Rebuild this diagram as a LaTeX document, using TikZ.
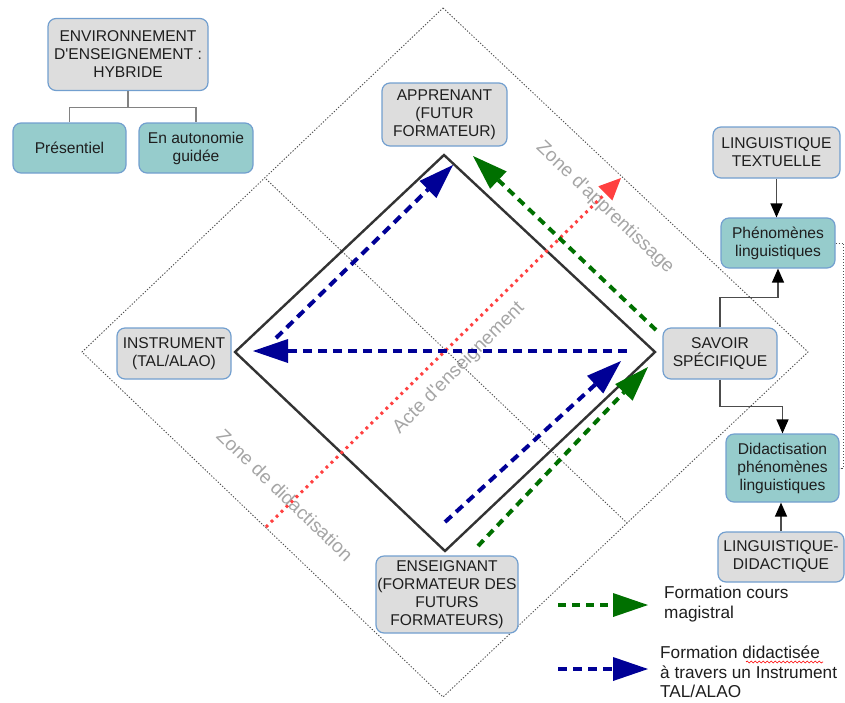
\documentclass[tikz,border=0pt]{standalone}
\usepackage{fontspec}
\setmainfont{Liberation Sans}
\usetikzlibrary{arrows.meta,decorations.pathmorphing}
\definecolor{boxgray}{RGB}{221,221,221}
\definecolor{boxline}{RGB}{114,159,207}
\definecolor{tealfill}{RGB}{150,204,204}
\definecolor{txt}{RGB}{30,30,30}
\definecolor{zonegray}{RGB}{165,165,165}
\definecolor{bluearr}{RGB}{0,0,150}
\definecolor{greenarr}{RGB}{0,112,0}
\definecolor{redarr}{RGB}{255,64,64}
\definecolor{dotgray}{RGB}{80,80,80}
\definecolor{treegray}{RGB}{130,130,130}
\newcommand{\ap}{\textquotesingle}
\begin{document}
\begin{tikzpicture}[x=1pt,y=-1pt,
  box/.style={draw=boxline, line width=1.2pt, rounded corners=8pt, align=center, text=txt,
    font=\fontsize{15.6}{18}\selectfont, inner sep=0pt},
  gbox/.style={box, fill=boxgray},
  tbox/.style={box, fill=tealfill},
  outerdot/.style={draw=dotgray, line width=0.9pt, dash pattern=on 1.3pt off 1.7pt},
  innerdia/.style={draw=black!80, line width=2.4pt, line join=miter},
  treeline/.style={draw=treegray, line width=1.3pt},
  blk/.style={draw=black!70, line width=1.3pt, -{Triangle[length=14pt,width=12pt,black]}},
  bluedash/.style={draw=bluearr, line width=4pt, dash pattern=on 9pt off 6pt,
    -{Triangle[length=35pt,width=24pt,fill=bluearr,line width=0pt]}},
  greendash/.style={draw=greenarr, line width=4pt, dash pattern=on 8pt off 6pt,
    -{Triangle[length=35pt,width=24pt,fill=greenarr,line width=0pt]}},
  reddot/.style={draw=redarr, line width=3pt, dash pattern=on 2.8pt off 4.2pt,
    -{Triangle[length=22pt,width=20pt,fill=redarr,line width=0pt]}},
  zone/.style={text=zonegray, font=\fontsize{19}{22}\selectfont, inner sep=0pt},
  legtext/.style={text=txt, font=\fontsize{17.2}{19.5}\selectfont, align=left, inner sep=0pt, anchor=west}
]
\useasboundingbox (0,0) rectangle (845,702);

% outer dotted diamond
\coordinate (OT) at (443,8);
\coordinate (OR) at (808,352);
\coordinate (OB) at (443,697);
\coordinate (OL) at (82,352);
\draw[outerdot] (OT) -- (OR) -- (OB) -- (OL) -- cycle;
\coordinate (MTL) at (266,179);
\coordinate (MBR) at (627,523);
\draw[outerdot] (MTL) -- (MBR);

% inner solid diamond
\coordinate (IT) at (444,155);
\coordinate (IR) at (655,352);
\coordinate (IB) at (445,551);
\coordinate (IL) at (235,352);
\draw[innerdia] (IT) -- (IR) -- (IB) -- (IL) -- cycle;

% zone labels
\node[zone, rotate=-43.5] (za) at (605,208) {Zone d\ap apprentissage};
\node[zone, rotate=-44] (zd) at (285,495) {Zone de didactisation};

% red arrow
\coordinate (R1) at (266,527);
\coordinate (R2) at (621,178);
\draw[reddot] (R1) -- (R2);
\node[zone, rotate=45] (acte) at (459,368) {Acte d\ap enseignement};

% main arrows
\coordinate (B1s) at (445,522);
\coordinate (B1e) at (621,361);
\draw[bluedash] (B1s) -- (B1e);
\coordinate (G1s) at (478,546);
\coordinate (G1e) at (648,367);
\draw[greendash] (G1s) -- (G1e);
\coordinate (G2s) at (656,330);
\coordinate (G2e) at (473,156);
\draw[greendash] (G2s) -- (G2e);
\coordinate (B2s) at (276,338);
\coordinate (B2e) at (453,165);
\draw[bluedash] (B2s) -- (B2e);
\coordinate (B3s) at (627,351);
\coordinate (B3e) at (253,351);
\draw[bluedash] (B3s) -- (B3e);

% top-left tree
\node[gbox, minimum width=160pt, minimum height=72pt] (env) at (128,54.5) {ENVIRONNEMENT\\D\ap ENSEIGNEMENT :\\HYBRIDE};
\node[tbox, minimum width=113pt, minimum height=50pt] (pres) at (69.5,148) {Présentiel};
\node[tbox, minimum width=114pt, minimum height=50pt] (auto) at (196,148) {En autonomie\\guidée};
\draw[treeline] (env.south) -- ++(0,16.5) -| (pres.north);
\draw[treeline] (env.south) -- ++(0,16.5) -| (auto.north);

% diamond vertices boxes
\node[gbox, minimum width=125pt, minimum height=63pt] (appr) at (444.5,114.5) {APPRENANT\\(FUTUR\\FORMATEUR)};
\node[gbox, minimum width=114pt, minimum height=51pt] (instr) at (174,353.5) {INSTRUMENT\\(TAL/ALAO)};
\node[gbox, minimum width=114pt, minimum height=51pt] (savoir) at (720,353.5) {SAVOIR\\SPÉCIFIQUE};
\node[gbox, minimum width=142pt, minimum height=77pt] (ens) at (447,594.5) {ENSEIGNANT\\(FORMATEUR DES\\FUTURS\\FORMATEURS)};

% right column
\node[gbox, minimum width=127pt, minimum height=51pt] (lingt) at (776.5,152.5) {LINGUISTIQUE\\TEXTUELLE};
\node[tbox, minimum width=114pt, minimum height=50pt] (phen) at (778,243) {Phénomènes\\linguistiques};
\node[tbox, minimum width=113pt, minimum height=68pt] (didac) at (782.5,468) {Didactisation\\phénomènes\\linguistiques};
\node[gbox, minimum width=126pt, minimum height=50pt] (lingd) at (781,557) {LINGUISTIQUE-\\DIDACTIQUE};

\draw[blk] (savoir.north) -- ++(0,-30) -| (phen.south);
\draw[blk] (savoir.south) -- ++(0,27) -| (didac.north);
\draw[blk] (lingt.south) -- (lingt.south |- phen.north);
\draw[blk] (lingd.north) -- (lingd.north |- didac.south);
\draw[outerdot] (phen.east) -- ++(8,0) |- (didac.east);

% legend
\coordinate (L1s) at (558,605);
\coordinate (L1e) at (648,605);
\draw[greendash] (L1s) -- (L1e);
\node[legtext] (leg1) at (664,604) {Formation cours\\magistral};
\coordinate (L2s) at (558,669);
\coordinate (L2e) at (648,669);
\draw[bluedash] (L2s) -- (L2e);
\node[legtext] (leg2) at (660,672) {Formation didactisée\\à travers un Instrument\\TAL/ALAO};
\draw[red, line width=0.6pt, decorate, decoration={snake, amplitude=1pt, segment length=4pt}] (746,662) -- (823,662);
\end{tikzpicture}
\end{document}
